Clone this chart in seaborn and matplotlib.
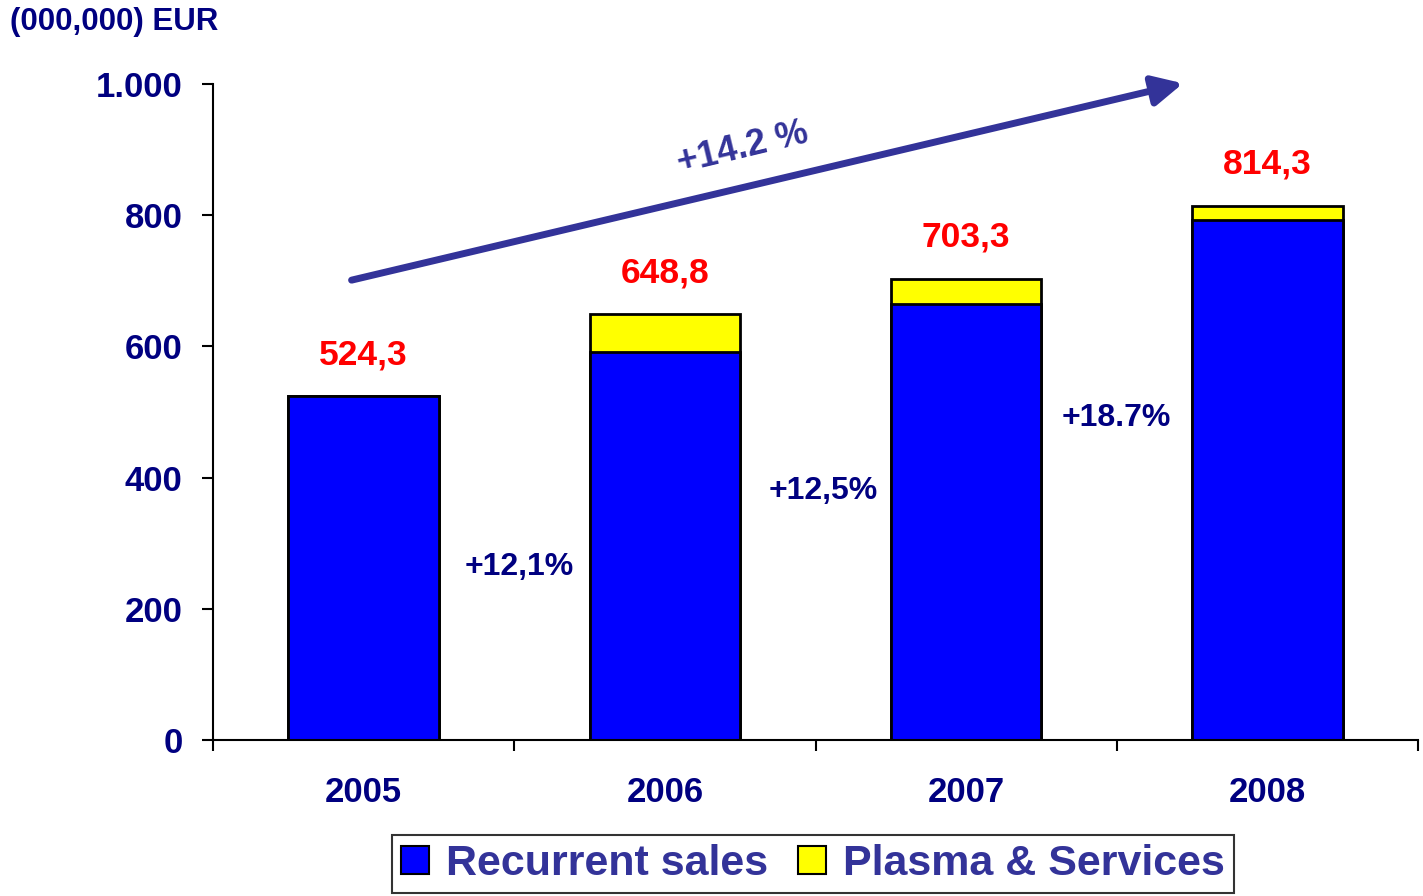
import matplotlib
matplotlib.use("Agg")
import matplotlib.pyplot as plt
import seaborn as sns
import pandas as pd
import numpy as np
from matplotlib.patches import Patch

# Sales by year (million EUR)
years = ["2005", "2006", "2007", "2008"]
totals = [524.3, 648.8, 703.3, 814.3]
recurrent = [524.3, 591.0, 665.0, 792.0]
plasma = [t - r for t, r in zip(totals, recurrent)]
total_labels = ["524,3", "648,8", "703,3", "814,3"]
growth_labels = ["+12,1%", "+12,5%", "+18.7%"]
growth_pos = [(0.516, 264), (1.525, 380), (2.50, 491)]
cagr_label = "+14.2 %"

sns.set_theme(style="white")
plt.rcParams['font.family'] = ['Liberation Sans', 'DejaVu Sans']
plt.rcParams['font.weight'] = 'bold'

NAVY = "#000080"
INDIGO = "#333399"
BLUE = "#0000FF"
YELLOW = "#FFFF00"

fig = plt.figure(figsize=(14.23, 8.96), dpi=100)
ax = fig.add_axes([213 / 1423, 156 / 896, 1205 / 1423, 656 / 896])

df = pd.DataFrame({"year": years, "recurrent": recurrent, "total": totals})

# Totals drawn first (yellow), recurrent on top (blue) -> stacked look
sns.barplot(data=df, x="year", y="total", color=YELLOW, width=0.5,
            edgecolor="black", linewidth=2, saturation=1, ax=ax)
sns.barplot(data=df, x="year", y="recurrent", color=BLUE, width=0.5,
            edgecolor="black", linewidth=2, saturation=1, ax=ax)

ax.set_xlim(-0.5, 3.5)
ax.set_ylim(0, 1000)
ax.set_xlabel("")
ax.set_ylabel("")

for side in ["top", "right"]:
    ax.spines[side].set_visible(False)
for side in ["left", "bottom"]:
    ax.spines[side].set_color("black")
    ax.spines[side].set_linewidth(1.5)

ax.set_yticks([0, 200, 400, 600, 800, 1000])
ax.set_yticklabels(["0", "200", "400", "600", "800", "1.000"])
ax.tick_params(axis="y", direction="out", length=8, width=1.5, color="black",
               labelsize=25, labelcolor=NAVY, pad=14, left=True)

ax.set_xticks(range(len(years)))
ax.set_xticklabels(years)
ax.set_xticks(np.arange(-0.5, 3.6, 1.0), minor=True)
ax.tick_params(axis="x", which="major", length=0, labelsize=25,
               labelcolor=NAVY, pad=26)
ax.tick_params(axis="x", which="minor", direction="out", length=8,
               width=1.5, color="black", bottom=True)
for lbl in ax.get_xticklabels() + ax.get_yticklabels():
    lbl.set_fontweight("bold")

# Total value labels above each bar
for i, (t, s) in enumerate(zip(totals, total_labels)):
    ax.annotate(s, xy=(i, t), xytext=(0, 18), textcoords="offset points",
                ha="center", va="bottom", color="#FF0000",
                fontsize=25.5, fontweight="bold")

# Year-on-year growth labels
for (gx, gy), s in zip(growth_pos, growth_labels):
    ax.text(gx, gy, s, ha="center", va="center", color=NAVY,
            fontsize=23, fontweight="bold")

# Trend arrow
ax.annotate("", xy=(2.72, 1001), xytext=(-0.04, 701),
            arrowprops=dict(arrowstyle="-|>,head_length=1.5,head_width=0.75",
                            color=INDIGO, lw=5, shrinkA=0, shrinkB=0),
            annotation_clip=False)
ax.text(1.26, 902, cagr_label, ha="center", va="center", rotation=13.5,
        rotation_mode="anchor", color=INDIGO, fontsize=26, fontweight="bold")

fig.text(10 / 1423, 1 - 22 / 896, "(000,000) EUR", ha="left", va="center",
         color=NAVY, fontsize=22.5, fontweight="bold")

handles = [Patch(facecolor=BLUE, edgecolor="black", linewidth=1.5),
           Patch(facecolor=YELLOW, edgecolor="black", linewidth=1.5)]
leg = fig.legend(handles, ["Recurrent sales", "Plasma & Services"],
                 loc="center", bbox_to_anchor=(813 / 1423, 1 - 864 / 896),
                 ncol=2, frameon=True, fancybox=False, handlelength=0.65,
                 handleheight=0.65, handletextpad=0.4, columnspacing=0.7,
                 borderpad=0.2,
                 prop={"size": 31, "weight": "bold"})
leg.get_frame().set_edgecolor("black")
leg.get_frame().set_linewidth(1.5)
for txt in leg.get_texts():
    txt.set_color(INDIGO)

fig.savefig("out.png", dpi=100)
